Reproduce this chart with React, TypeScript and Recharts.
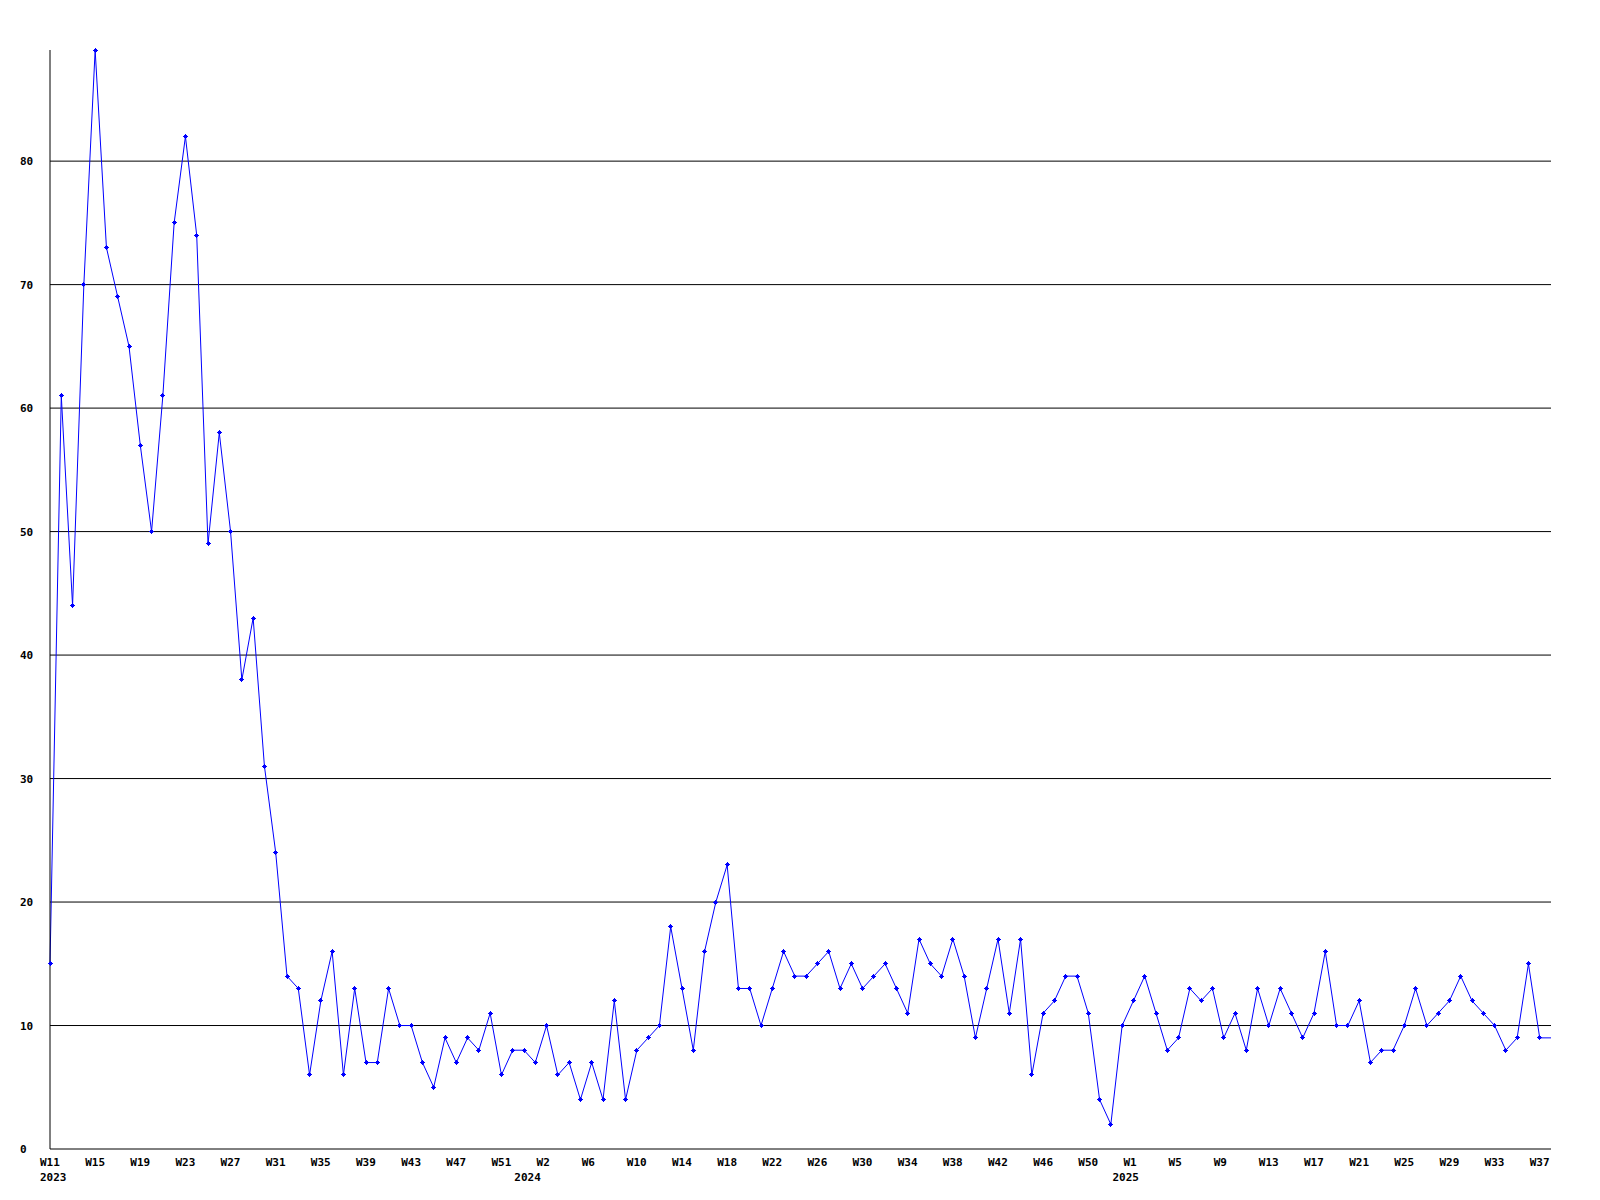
import { CartesianGrid, Line, LineChart, XAxis, YAxis } from "recharts";

// weekly counts, 2023 W11 .. 2025 W38
const weeks2023 = [
  15, 61, 44, 70, 89, 73, 69, 65, 57, 50, 61, 75, 82, 74, 49, 58, 50, 38, 43,
  31, 24, 14, 13, 6, 12, 16, 6, 13, 7, 7, 13, 10, 10, 7, 5, 9, 7, 9, 8, 11, 6,
  8, 8,
];
const weeks2024 = [
  7, 10, 6, 7, 4, 7, 4, 12, 4, 8, 9, 10, 18, 13, 8, 16, 20, 23, 13, 13, 10, 13,
  16, 14, 14, 15, 16, 13, 15, 13, 14, 15, 13, 11, 17, 15, 14, 17, 14, 9, 13, 17,
  11, 17, 6, 11, 12, 14, 14, 11, 4, 2, 10,
];
const weeks2025 = [
  12, 14, 11, 8, 9, 13, 12, 13, 9, 11, 8, 13, 10, 13, 11, 9, 11, 16, 10, 10, 12,
  7, 8, 8, 10, 13, 10, 11, 12, 14, 12, 11, 10, 8, 9, 15, 9, 9,
];
const years = [
  { year: 2023, firstWeek: 11, values: weeks2023 },
  { year: 2024, firstWeek: 1, values: weeks2024 },
  { year: 2025, firstWeek: 1, values: weeks2025 },
];
const yTicks = [0, 10, 20, 30, 40, 50, 60, 70, 80];

const data = years.flatMap((y) =>
  y.values.map((v, i) => ({
    label: `W${y.firstWeek + i}`,
    year: y.year,
    week: y.firstWeek + i,
    value: v,
  }))
);

const W = 1600;
const H = 1200;
const margin = { top: 50, right: 49, left: 0, bottom: 0 };
const plotLeft = 50;
const plotRight = W - margin.right;
const step = (plotRight - plotLeft) / (data.length - 1);

const font = {
  fontFamily: "'DejaVu Sans Mono', monospace",
  fontSize: 11,
  fontWeight: "bold" as const,
  fill: "#000",
};

const XTick = (props: any) => {
  const { x, y, payload, index } = props;
  const i = payload.index ?? index * 4;
  const d = data[i] ?? data[0];
  const prev = data[i - 4];
  let yearLabel = null;
  if (!prev) {
    yearLabel = (
      <text x={x - 10} y={y + 24} textAnchor="start" {...font}>
        {d.year}
      </text>
    );
  } else if (prev.year !== d.year) {
    yearLabel = (
      <text x={x - (d.week - 1) * step - 21} y={y + 24} textAnchor="start" {...font}>
        {d.year}
      </text>
    );
  }
  return (
    <g>
      <text x={x - 10} y={y + 9} textAnchor="start" {...font}>
        {payload.value}
      </text>
      {yearLabel}
    </g>
  );
};

const YTick = (props: any) => {
  const { y, payload } = props;
  return (
    <text x={20} y={y + 4} textAnchor="start" {...font}>
      {payload.value}
    </text>
  );
};

const Marker = (props: any) => {
  const { cx, cy, index } = props;
  if (cx == null || cy == null || index === data.length - 1) return null;
  return (
    <g fill="#0000ff" shapeRendering="crispEdges">
      <rect x={cx - 1.5} y={cy - 1.5} width={3} height={3} />
      <rect x={cx - 2.5} y={cy - 0.5} width={5} height={1} />
      <rect x={cx - 0.5} y={cy - 2.5} width={1} height={5} />
    </g>
  );
};

export default function App() {
  return (
    <div
      style={{
        position: "absolute",
        left: 0,
        top: 0,
        width: W,
        height: H,
        background: "#fff",
      }}
    >
      <LineChart width={W} height={H} data={data} margin={margin}>
        <CartesianGrid
          vertical={false}
          stroke="#000"
          strokeWidth={1}
          horizontalValues={yTicks.slice(1)}
        />
        <XAxis
          dataKey="label"
          interval={3}
          height={51}
          axisLine={{ stroke: "#000", strokeWidth: 1 }}
          tickLine={false}
          tick={<XTick />}
        />
        <YAxis
          domain={[0, 89]}
          ticks={yTicks}
          width={50}
          axisLine={{ stroke: "#000", strokeWidth: 1 }}
          tickLine={false}
          tick={<YTick />}
        />
        <Line
          type="linear"
          dataKey="value"
          stroke="#0000ff"
          strokeWidth={1}
          dot={<Marker />}
          activeDot={false}
          isAnimationActive={false}
        />
      </LineChart>
    </div>
  );
}
